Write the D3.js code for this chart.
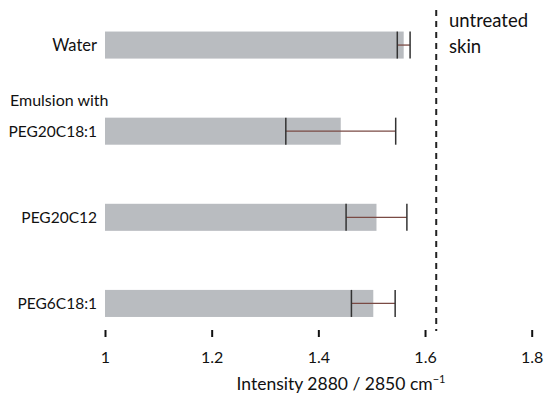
<!DOCTYPE html>
<html><head><meta charset="utf-8">
<script src="https://cdn.jsdelivr.net/npm/d3@7"></script>
<style>body{margin:0;background:#fff}svg{display:block}text{font-family:Lato,"Open Sans",sans-serif;fill:#111}</style>
</head><body><svg id="c" width="544" height="394"></svg>
<script>
const categories = ["Water", "PEG20C18:1", "PEG20C12", "PEG6C18:1"];
const means = [1.560, 1.442, 1.509, 1.503];
const errors = [0.012, 0.103, 0.057, 0.041];
const tickValues = [1, 1.2, 1.4, 1.6, 1.8];
const tickLabels = ["1", "1.2", "1.4", "1.6", "1.8"];
const untreated = 1.621;

const svg = d3.select("#c");
const x = d3.scaleLinear().domain([1, 1.8]).range([105, 531.7]);
const y = d3.scaleBand().domain(categories).range([2, 346.5]).paddingInner(0.686).paddingOuter(0.343);

// bars
svg.selectAll("rect.bar").data(categories).enter().append("rect")
  .attr("x", x(1)).attr("y", d => y(d))
  .attr("width", (d, i) => x(means[i]) - x(1))
  .attr("height", y.bandwidth())
  .attr("fill", "#b9bcc0");

// error bars
const eb = svg.selectAll("g.eb").data(categories).enter().append("g");
eb.append("line")
  .attr("x1", (d, i) => x(means[i] - errors[i])).attr("x2", (d, i) => x(means[i] + errors[i]))
  .attr("y1", d => y(d) + y.bandwidth() / 2).attr("y2", d => y(d) + y.bandwidth() / 2)
  .attr("stroke", "#7a4a44").attr("stroke-width", 1.3);
[-1, 1].forEach(s => {
  eb.append("line")
    .attr("x1", (d, i) => x(means[i] + s * errors[i])).attr("x2", (d, i) => x(means[i] + s * errors[i]))
    .attr("y1", d => y(d)).attr("y2", d => y(d) + y.bandwidth())
    .attr("stroke", "#333").attr("stroke-width", 1.5);
});

// category labels
svg.selectAll("text.cat").data(categories).enter().append("text")
  .attr("x", 97).attr("y", d => y(d) + y.bandwidth() / 2)
  .attr("dy", "0.35em").attr("text-anchor", "end")
  .style("font-size", d => d === "Water" ? "16.5px" : "15.5px").text(d => d);

svg.append("text").attr("x", 10).attr("y", 106)
  .style("font-size", "16px").text("Emulsion with");

// untreated skin line
svg.append("line").attr("x1", x(untreated)).attr("x2", x(untreated))
  .attr("y1", 10).attr("y2", 331)
  .attr("stroke", "#222").attr("stroke-width", 2).attr("stroke-dasharray", "6,5");
svg.append("text").attr("x", 449).attr("y", 27).style("font-size", "18.5px").text("untreated");
svg.append("text").attr("x", 449).attr("y", 53).style("font-size", "18.5px").text("skin");

// axis
const axis = d3.axisBottom(x).tickValues(tickValues)
  .tickFormat((d, i) => tickLabels[i]).tickSize(7).tickPadding(15);
const g = svg.append("g").attr("transform", "translate(0,330)").call(axis);
g.select(".domain").remove();
g.selectAll(".tick line").attr("stroke", "#111").attr("stroke-width", 2);
g.selectAll(".tick text").style("font-size", "16px").attr("fill", "#111")
  .style("font-family", "Lato, 'Open Sans', sans-serif");

const t = svg.append("text").attr("x", 341).attr("y", 390).attr("text-anchor", "middle").style("font-size", "17.5px");
t.append("tspan").text("Intensity 2880 / 2850 cm");
t.append("tspan").attr("dy", "-7").style("font-size", "11px").text("\u22121");
</script></body></html>
